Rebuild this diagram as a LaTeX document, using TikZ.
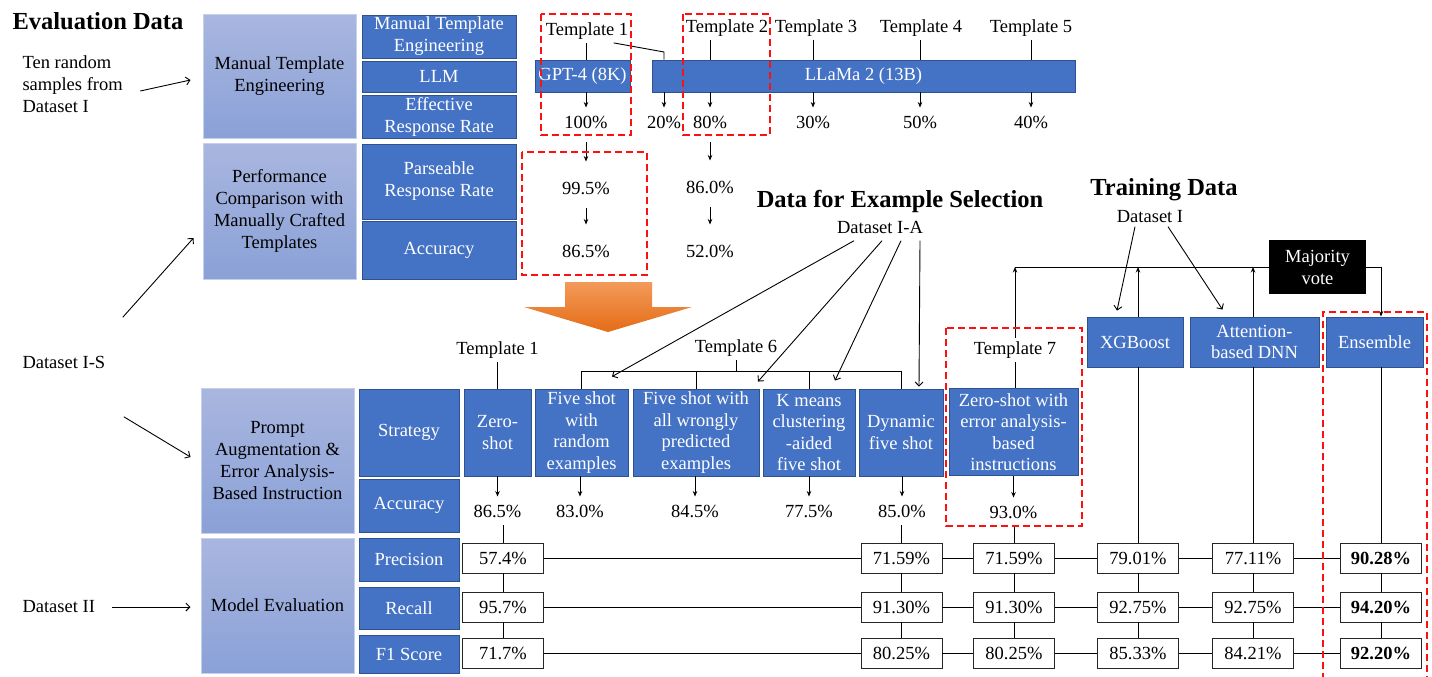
\documentclass[tikz,border=0pt]{standalone}
\usepackage{fontspec}
\setmainfont{Liberation Serif}
\usetikzlibrary{arrows.meta,calc}
\definecolor{dblue}{HTML}{4472C4}
\definecolor{dborder}{HTML}{2F528F}
\definecolor{ltop}{HTML}{A9B6DF}
\definecolor{lbot}{HTML}{8AA1D7}
\definecolor{lborder}{HTML}{C5D0EC}
\definecolor{rdash}{HTML}{FF1010}
\definecolor{otop}{HTML}{F39A5A}
\definecolor{obot}{HTML}{E46C16}
\begin{document}
\begin{tikzpicture}[x=1pt,y=-1pt,
 every node/.style={font=\fontsize{18.5}{22}\selectfont},
 dbox/.style={draw=dborder, line width=0.9pt, fill=dblue, text=white, align=center, inner sep=0pt},
 lbox/.style={draw=lborder, line width=1pt, top color=ltop, bottom color=lbot, align=center, inner sep=0pt},
 sbox/.style={dbox, minimum height=87, font=\fontsize{18.5}{21.5}\selectfont},
 mbox/.style={draw=black!85, line width=0.8pt, fill=white, minimum width=81, minimum height=30, inner sep=0pt},
 val/.style={inner xsep=2pt, inner ysep=8pt},
 ttl/.style={font=\bfseries\fontsize{24.5}{28}\selectfont},
 lnk/.style={line width=0.9pt},
 arr/.style={lnk, -{Stealth[length=5.5pt,width=4.5pt]}},
 barb/.style={lnk, -{Straight Barb[length=4pt,width=8pt]}},
 sarr/.style={arr, shorten <=6pt, shorten >=12pt},
 reddash/.style={draw=rdash, line width=2.3pt, dash pattern=on 7pt off 4pt},
]
\useasboundingbox (0,0) rectangle (1432,677);

% ---------- left labels ----------
\node[ttl, anchor=west] (evd) at (9,21) {Evaluation Data};
\node[anchor=west, align=left] (tenr) at (19,84) {Ten random\\samples from\\Dataset I};
\node[anchor=west] (dsIS) at (19,362) {Dataset I-S};
\node[anchor=west] (dsII) at (19,607) {Dataset II};

% ---------- light boxes ----------
\node[lbox, minimum width=153, minimum height=123] (lb1) at (279.5,76.5) {Manual Template\\Engineering};
\node[lbox, minimum width=153, minimum height=136] (lb2) at (279.5,211) {Performance\\Comparison with\\Manually Crafted\\Templates};
\node[lbox, minimum width=153, minimum height=145] (lb3) at (277.5,460.5) {Prompt\\Augmentation \&\\Error Analysis-\\Based Instruction};
\node[lbox, minimum width=153, minimum height=135] (lb4) at (277.5,605.5) {Model Evaluation};

% ---------- dark boxes, top ----------
\node[dbox, minimum width=154, minimum height=43] (d1) at (439,36.5) {Manual Template\\Engineering};
\node[dbox, minimum width=154, minimum height=31] (d2) at (439,76.5) {LLM};
\node[dbox, minimum width=154, minimum height=43] (d3) at (439,116.5) {Effective\\Response Rate};
\node[dbox, minimum width=154, minimum height=75] (d4) at (439,181.5) {Parseable\\Response Rate};
\node[dbox, minimum width=154, minimum height=58] (d5) at (439,250) {Accuracy};

% ---------- dark boxes, lower ----------
\node[dbox, minimum width=100, minimum height=87] (s1) at (409,432.5) {Strategy};
\node[dbox, minimum width=100, minimum height=53] (s2) at (409,505.5) {Accuracy};
\node[dbox, minimum width=100, minimum height=43] (s3) at (409,559.5) {Precision};
\node[dbox, minimum width=100, minimum height=42] (s4) at (409,608) {Recall};
\node[dbox, minimum width=100, minimum height=38] (s5) at (409,654) {F1 Score};

% ---------- LLM bars ----------
\node[dbox, minimum width=95, minimum height=32] (gpt) at (582.5,76) {GPT-4 (8K)};
\node[dbox, minimum width=423, minimum height=32] (llama) at (863.5,76) {LLaMa 2 (13B)};

% ---------- templates (top) ----------
\node (t1) at (587,31) {Template 1};
\node (t2) at (727,28) {Template 2};
\node (t3) at (816,28) {Template 3};
\node (t4) at (921,28) {Template 4};
\node (t5) at (1031,28) {Template 5};

\node[val] (v100) at (586,122) {100\%};
\node[val] (v20) at (664,122) {20\%};
\node[val] (v80) at (710,122) {80\%};
\node[val] (v30) at (813,122) {30\%};
\node[val] (v50) at (920,122) {50\%};
\node[val] (v40) at (1031,122) {40\%};
\node[val] (v995) at (586,188) {99.5\%};
\node[val] (v860) at (710,187) {86.0\%};
\node[val] (v865) at (586,251) {86.5\%};
\node[val] (v520) at (710,251) {52.0\%};

\coordinate (t1bend) at (664,52);
\draw[lnk] (t1.south -| v100) -- (v100 |- gpt.north);
\draw[lnk] ([xshift=-18pt]t1.south east) -- (t1bend) -- (v20 |- llama.north);
\draw[lnk] (v80 |- t2.south) -- (v80 |- llama.north);
\draw[lnk] (v30 |- t3.south) -- (v30 |- llama.north);
\draw[lnk] (v50 |- t4.south) -- (v50 |- llama.north);
\draw[lnk] (v40 |- t5.south) -- (v40 |- llama.north);

\draw[arr] (v100 |- gpt.south) -- (v100.north);
\draw[arr] (v20 |- llama.south) -- (v20.north);
\draw[arr] (v80 |- llama.south) -- (v80.north);
\draw[arr] (v30 |- llama.south) -- (v30.north);
\draw[arr] (v50 |- llama.south) -- (v50.north);
\draw[arr] (v40 |- llama.south) -- (v40.north);
\draw[sarr] (v100.south) -- (v995.north);
\draw[sarr] (v995.south) -- (v865.north);
\draw[sarr] (v80.south) -- (v860.north);
\draw[sarr] (v860.south) -- (v520.north);

% ---------- orange arrow ----------
\shade[top color=otop, bottom color=obot] (565,282) -- (652,282) -- (652,307) -- (692,307) -- (608,332) -- (524,307) -- (565,307) -- cycle;

% ---------- titles middle / right ----------
\node[ttl] (dfes) at (900,201) {Data for Example Selection};
\node (dsIA) at (880,227) {Dataset I-A};
\node[ttl] (trd) at (1164,190) {Training Data};
\node (dsI) at (1150,217) {Dataset I};

% ---------- strategy boxes ----------
\node[sbox, minimum width=67] (zs) at (497.5,432.5) {Zero-\\shot};
\node[sbox, minimum width=93] (fsr) at (581.5,432.5) {Five shot\\with\\random\\examples};
\node[sbox, minimum width=126] (fsw) at (696,432.5) {Five shot with\\all wrongly\\predicted\\examples};
\node[sbox, minimum width=92] (km) at (809,432.5) {K means\\clustering\\-aided\\five shot};
\node[sbox, minimum width=84] (dyn) at (901,432.5) {Dynamic\\five shot};
\node[sbox, minimum width=129] (zse) at (1013.5,432) {Zero-shot with\\error analysis-\\based\\instructions};

\node (tl1) at (497.5,350) {Template 1};
\node (t6) at (736,348) {Template 6};
\node (t7) at (1015,350) {Template 7};

\coordinate (brk) at (736,371);
\draw[lnk] (t6.south) -- (brk);
\draw[lnk] (fsr.north) -- (fsr.north |- brk) -| (dyn.north);
\draw[lnk] (fsw.north) -- (fsw.north |- brk);
\draw[lnk] (km.north) -- (km.north |- brk);
\draw[lnk] (tl1.south) -- (tl1.south |- zs.north);
\draw[lnk] (t7.south) -- (t7.south |- zse.north);

\draw[barb] ([xshift=-26pt,yshift=-4pt]dsIA.south) -- ([xshift=30.5pt,yshift=12pt]fsr.north);
\draw[barb] ([xshift=2pt,yshift=-4pt]dsIA.south) -- ([xshift=62pt,yshift=7pt]fsw.north);
\draw[barb] ([xshift=21pt,yshift=-4pt]dsIA.south) -- ([xshift=26pt,yshift=8pt]km.north);
\draw[barb] ([xshift=40pt,yshift=-4pt]dsIA.south) -- ([xshift=18pt,yshift=2pt]dyn.north);

% ---------- accuracy values ----------
\node[val] (a1) at (497.5,511) {86.5\%};
\node[val] (a2) at (580,511) {83.0\%};
\node[val] (a3) at (695,511) {84.5\%};
\node[val] (a4) at (809,511) {77.5\%};
\node[val] (a5) at (902,511) {85.0\%};
\node[val] (a6) at (1013.5,512) {93.0\%};
\draw[arr] (a1 |- zs.south) -- (a1.north);
\draw[arr] (a2 |- fsr.south) -- (a2.north);
\draw[arr] (a3 |- fsw.south) -- (a3.north);
\draw[arr] (a4 |- km.south) -- (a4.north);
\draw[arr] (a5 |- dyn.south) -- (a5.north);
\draw[arr] (a6 |- zse.south) -- (a6.north);

% ---------- model boxes ----------
\node[dbox, minimum width=96, minimum height=50] (xgb) at (1135,342) {XGBoost};
\node[dbox, minimum width=129, minimum height=50, font=\fontsize{18.5}{21}\selectfont] (dnn) at (1254.5,342) {Attention-\\based DNN};
\node[dbox, minimum width=97, minimum height=50] (ens) at (1374.5,342) {Ensemble};
\node[fill=black, text=white, align=center, minimum width=97, minimum height=54, inner sep=0pt] (mv) at (1317.5,267) {Majority\\vote};

% ---------- metric boxes ----------
\node[mbox] (pz) at (503,558) {57.4\%};
\node[mbox] (rz) at (503,607) {95.7\%};
\node[mbox] (fz) at (503,653) {71.7\%};
\node[mbox] (pd) at (901.5,558) {71.59\%};
\node[mbox] (rd) at (901.5,607) {91.30\%};
\node[mbox] (fd) at (901.5,653) {80.25\%};
\node[mbox] (pt) at (1014,558) {71.59\%};
\node[mbox] (rt) at (1014,607) {91.30\%};
\node[mbox] (ft) at (1014,653) {80.25\%};
\node[mbox] (px) at (1138,558) {79.01\%};
\node[mbox] (rx) at (1138,607) {92.75\%};
\node[mbox] (fx) at (1138,653) {85.33\%};
\node[mbox] (pn) at (1253,558) {77.11\%};
\node[mbox] (rn) at (1253,607) {92.75\%};
\node[mbox] (fn) at (1253,653) {84.21\%};
\node[mbox, font=\bfseries\fontsize{18.5}{22}\selectfont] (pe) at (1381,558) {90.28\%};
\node[mbox, font=\bfseries\fontsize{18.5}{22}\selectfont] (re) at (1381,607) {94.20\%};
\node[mbox, font=\bfseries\fontsize{18.5}{22}\selectfont] (fe) at (1381,653) {92.20\%};

% rows
\draw[lnk] (pz) -- (pd); \draw[lnk] (pd) -- (pt); \draw[lnk] (pt) -- (px); \draw[lnk] (px) -- (pn); \draw[lnk] (pn) -- (pe);
\draw[lnk] (rz) -- (rd); \draw[lnk] (rd) -- (rt); \draw[lnk] (rt) -- (rx); \draw[lnk] (rx) -- (rn); \draw[lnk] (rn) -- (re);
\draw[lnk] (fz) -- (fd); \draw[lnk] (fd) -- (ft); \draw[lnk] (ft) -- (fx); \draw[lnk] (fx) -- (fn); \draw[lnk] (fn) -- (fe);
% columns
\draw[lnk] (a1.south -| pz.north) -- (pz.north);
\draw[lnk] (a5.south -| pd.north) -- (pd.north);
\draw[lnk] (a6.south -| pt.north) -- (pt.north);
\draw[lnk] (px.north |- xgb.south) -- (px.north);
\draw[lnk] (pn.north |- dnn.south) -- (pn.north);
\draw[lnk] (pe.north |- ens.south) -- (pe.north);
\draw[lnk] (pz) -- (rz); \draw[lnk] (rz) -- (fz);
\draw[lnk] (pd) -- (rd); \draw[lnk] (rd) -- (fd);
\draw[lnk] (pt) -- (rt); \draw[lnk] (rt) -- (ft);
\draw[lnk] (px) -- (rx); \draw[lnk] (rx) -- (fx);
\draw[lnk] (pn) -- (rn); \draw[lnk] (rn) -- (fn);
\draw[lnk] (pe) -- (re); \draw[lnk] (re) -- (fe);

% majority vote feedback
\draw[arr] (t7.north) -- (t7.north |- mv.west);
\draw[arr] (px.north |- xgb.north) -- (px.north |- mv.west);
\draw[arr] (pn.north |- dnn.north) -- (pn.north |- mv.west);
\draw[lnk] (t7.north |- mv.west) -- (mv.west);
\draw[arr] (mv.east) -| (pe.north |- ens.north);

% training data arrows
\draw[barb] ([xshift=-15pt]dsI.south) -- ([xshift=-18pt,yshift=6pt]xgb.north);
\draw[barb] ([xshift=18pt]dsI.south) -- ([xshift=-32pt,yshift=7pt]dnn.north);

% left dataset arrows
\draw[barb] ([xshift=14pt,yshift=-7pt]tenr.east) -- ([xshift=-12pt,yshift=-3.5pt]lb1.west);
\draw[barb] ([xshift=14pt,yshift=35pt]dsIS.north east) -- ([xshift=-9pt,yshift=-27pt]lb2.west);
\draw[barb] ([xshift=15pt,yshift=-45pt]dsIS.south east) -- ([xshift=-10pt,yshift=3.5pt]lb3.west);
\draw[barb, shorten <=14pt, shorten >=10pt] (dsII.east) -- (dsII.east -| lb4.west);

% ---------- red dashed highlights ----------
\draw[reddash] (541,14) rectangle (631,135);
\draw[reddash] (683,14) rectangle (770,135);
\draw[reddash] (522,152) rectangle (647,275);
\draw[reddash] (946,328) rectangle (1082,526);
\draw[reddash] (1323,680) -- (1323,312) -- (1427,312) -- (1427,680);
\end{tikzpicture}
\end{document}
